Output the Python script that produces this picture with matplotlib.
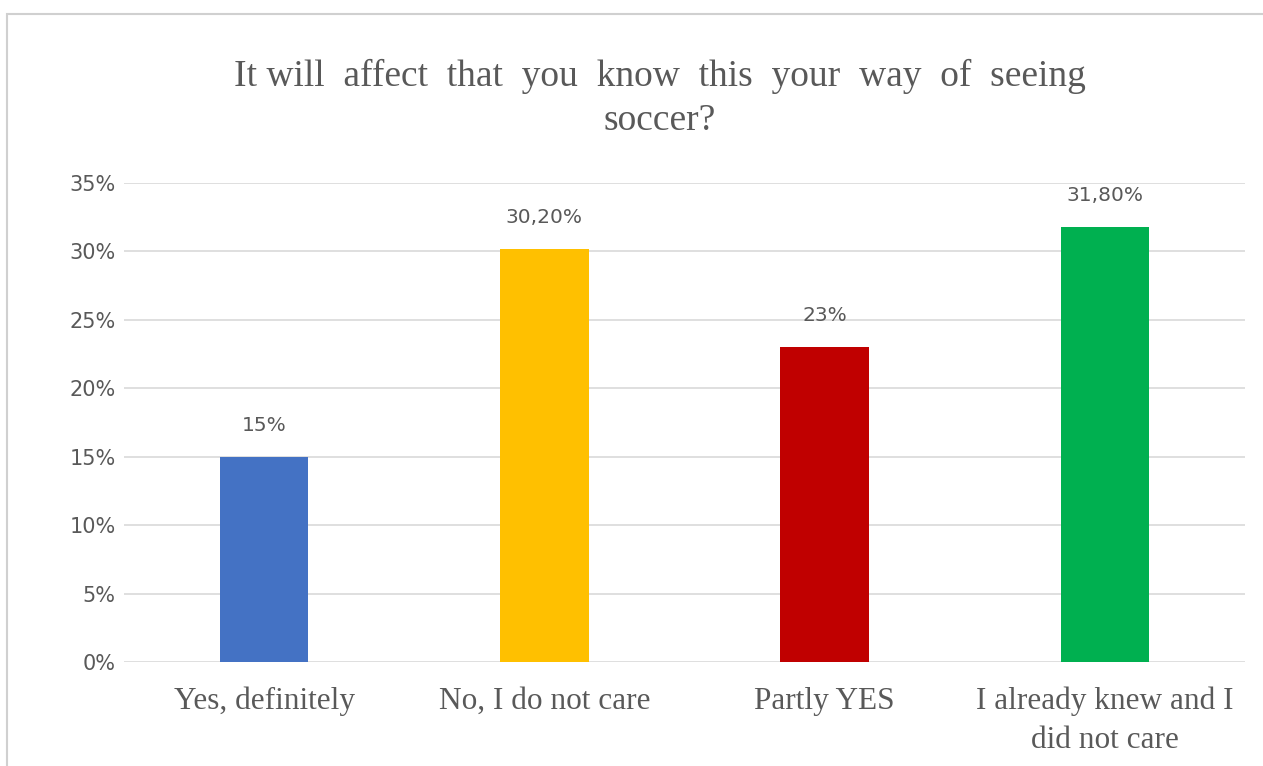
import matplotlib.pyplot as plt
from matplotlib.patches import Rectangle
from matplotlib.ticker import FuncFormatter

# survey answers
categories = ['Yes, definitely', 'No, I do not care', 'Partly YES', 'I already knew and I\ndid not care']
values = [15, 30.2, 23, 31.8]
labels = ['15%', '30,20%', '23%', '31,80%']
colors = ['#4472C4', '#FFC000', '#C00000', '#00B050']

fig = plt.figure(figsize=(12.63, 7.66), dpi=100)
ax = fig.add_axes([124/1263, 1-662/766, (1245-124)/1263, (662-183)/766])

# outer chart frame (only top/left visible in the crop)
fig.patches.append(Rectangle((7/1263, -0.1), 1.2, 1-14/766+0.1, transform=fig.transFigure,
                             fill=False, edgecolor='#d0d0d0', linewidth=1.5))

x = range(len(categories))
ax.bar(x, values, width=0.315, color=colors, zorder=3)
for xi, v, lab in zip(x, values, labels):
    ax.text(xi, v + 1.6, lab, ha='center', va='bottom', fontsize=14.5,
            color='#595959', family='DejaVu Sans')

ax.set_xlim(-0.5, 3.5)
ax.set_ylim(0, 35)
ax.set_yticks(range(0, 36, 5))
ax.yaxis.set_major_formatter(FuncFormatter(lambda v, p: f'{int(v)}%'))
ax.grid(axis='y', color='#d9d9d9', linewidth=1.2, zorder=0)
for s in ax.spines.values():
    s.set_visible(False)
ax.tick_params(axis='both', length=0)
ax.tick_params(axis='y', labelsize=15, labelcolor='#595959', pad=6)
ax.set_xticks(list(x))
ax.set_xticklabels(categories, fontsize=22.5, color='#595959', family='Liberation Serif',
                   linespacing=1.45)
ax.tick_params(axis='x', pad=18)

fig.text(660/1263, 1-76/766, 'It will  affect  that  you  know  this  your  way  of  seeing',
         ha='center', va='center', fontsize=27, color='#595959', family='Liberation Serif')
fig.text(660/1263, 1-121/766, 'soccer?', ha='center', va='center', fontsize=27,
         color='#595959', family='Liberation Serif')

fig.savefig('out.png', dpi=100)
